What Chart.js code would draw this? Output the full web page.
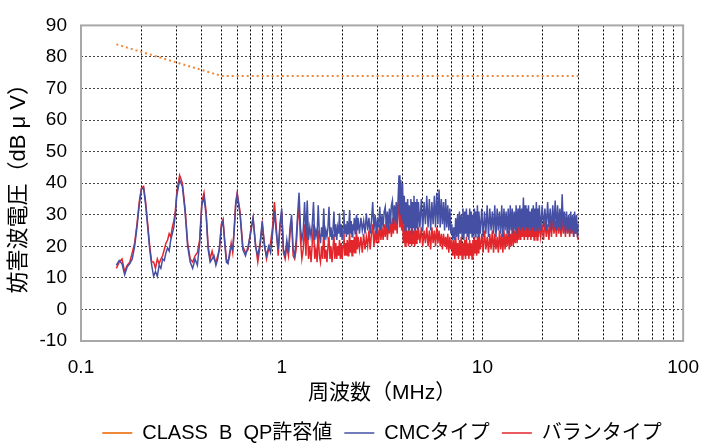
<!DOCTYPE html>
<html>
<head>
<meta charset="utf-8">
<script src="https://cdn.jsdelivr.net/npm/chart.js@4.4.0/dist/chart.umd.min.js"></script>
<style>
  html, body { margin: 0; padding: 0; background: #fff; }
</style>
</head>
<body>
<canvas id="noiseChart" width="714" height="444"></canvas>
<script>
// frequency points (MHz), shared by both measurements
const freqMHz = [
  0.150,0.155,0.160,0.165,0.170,0.175,0.180,0.185,0.190,0.195,0.200,0.205,0.210,0.215,0.220,0.225,0.230,0.235,0.240,0.245,0.250,0.255,0.260,0.265,0.270,0.275,0.280,0.285,0.290,0.295,0.300,
  0.31,0.32,0.33,0.34,0.35,0.36,0.37,0.38,0.39,0.40,0.41,0.42,0.43,0.44,0.45,0.46,0.47,0.48,0.49,0.50,0.51,0.52,0.53,0.54,0.55,0.56,0.57,0.58,0.59,0.60,
  0.62,0.64,0.66,0.68,0.70,0.72,0.74,0.76,0.78,0.80,0.82,0.84,0.86,0.88,0.90,0.92,0.94,0.96,0.98,1.00,1.02,1.04,1.06,1.08,1.10,1.12,1.14,1.16,1.18,1.20,
  1.22,1.24,1.26,1.28,1.30,1.32,1.34,1.36,1.38,1.40,1.42,1.44,1.46,1.48,1.50,1.52,1.54,1.56,1.58,1.60,
  1.62,1.64,1.66,1.68,1.70,1.72,1.74,1.76,1.78,1.80,1.82,1.84,1.86,1.88,1.90,1.92,1.94,1.96,1.98,2.00,
  2.02,2.04,2.06,2.08,2.10,2.12,2.14,2.16,2.18,2.20,2.22,2.24,2.26,2.28,2.30,2.32,2.34,2.36,2.38,2.40,
  2.44,2.48,2.52,2.56,2.60,2.64,2.68,2.72,2.76,2.80,2.84,2.88,2.92,2.96,3.00,3.04,3.08,3.12,3.16,3.20,
  3.24,3.28,3.32,3.36,3.40,3.44,3.48,3.52,3.56,3.60,3.64,3.68,3.72,3.76,3.80,3.84,3.88,3.92,3.96,4.00,
  4.04,4.08,4.12,4.16,4.20,4.24,4.28,4.32,4.36,4.40,4.44,4.48,4.52,4.56,4.60,4.64,4.68,4.72,4.76,4.80,
  4.88,4.96,5.04,5.12,5.20,5.28,5.36,5.44,5.52,5.60,5.68,5.76,5.84,5.92,6.00,6.08,6.16,6.24,6.32,6.40,
  6.48,6.56,6.64,6.72,6.80,6.88,6.96,7.04,7.12,7.20,7.28,7.36,7.44,7.52,7.60,7.68,7.76,7.84,7.92,8.00,
  8.08,8.16,8.24,8.32,8.40,8.48,8.56,8.64,8.72,8.80,8.88,8.96,9.04,9.12,9.20,9.28,9.36,9.44,9.52,9.60,
  9.76,9.92,10.08,10.24,10.40,10.56,10.72,10.88,11.04,11.20,11.36,11.52,11.68,11.84,12.00,12.16,12.32,12.48,12.64,12.80,
  12.96,13.12,13.28,13.44,13.60,13.76,13.92,14.08,14.24,14.40,14.56,14.72,14.88,15.04,15.20,15.36,15.52,15.68,15.84,16.00,
  16.16,16.32,16.48,16.64,16.80,16.96,17.12,17.28,17.44,17.60,17.76,17.92,18.08,18.24,18.40,18.56,18.72,18.88,19.04,19.20,
  19.52,19.84,20.16,20.48,20.80,21.12,21.44,21.76,22.08,22.40,22.72,23.04,23.36,23.68,24.00,24.32,24.64,24.96,25.28,25.60,
  25.92,26.24,26.56,26.88,27.20,27.52,27.84,28.16,28.48,28.80,29.12,29.44,29.76,30.0
];

// CMCタイプ (dBuV)
const cmcType = [
  14,15.5,14.5,11,13.5,14.5,16,20,26,33,38,38.5,33,26,19,14,10.5,12,10.5,14,13,16,15.5,18,19.5,18.5,22,24,26,30,36,
  41,39,31,20,15,13,16,14,21,33,35.5,30,19,15,16,17,14,16,20,26,28,21,15,14.5,18,20,19,25,33,36.5,
  30,19,17,20,24,29,20,17,21,28,20,17,20,18,24,31,24,19,27,32,19,17,22,18,26,30,19,17,22,30,
  37,26,22,25,34,23,34.5,22,26,23,27,34,22,25,23,33,24,21,26,23,
  32,22,25,23,26,32.5,23,26,22,25,31,23,27,22,26,24,30.5,23,27,22,
  26,31.5,24,27,23,28,24,27,31.5,24,28,23,27,25,29,24,28,30,25,29,
  24,29,25,28,24,30.5,25,29,24,28,34,25,30,24,29,26,32.5,25,30,26,
  31,32.5,26,31,25,32,27,33,34.5,27,33,28,34,27,35,42.5,30,41,28,40,
  27,36,25,34,26,35,25,33,26,35,24,34,26,36,25,34,26,35,25,34,
  26,35,25,34,27,36,26,35,25,34,27,36,26,37,27,38,26,35,27,34,
  25,35,26,33,25,32,24,27,22,26,22,29,23,30,22,31,24,30,23,32,
  22,31,24,32,23,30,22,32,24,31,23,30,24,32,23,31,24,33,23,31,
  24,32,23,31,24,33,23,32,25,31,24,33,23,32,25,31,24,33,23,32,
  25,31,24,32,23,33,25,32,24,31,25,33,24,32,26,33,25,32,26,35.5,
  25,33,26,32,25,33,26,31,25,32,26,33,25,32,26,34,25,32,26,33,
  25,33,26,32,25,34,26,32,25,33,26,34.5,25,33,26,32,25,36.5,26,31,
  24,31,25,30,24,31,25,30,23,31,24,30,23,27
];

// バランタイプ (dBuV)
const balunType = [
  13,15,16,12,14,15,18,21,27,34,38.5,39,34,27,20,15,15,13,16,14.5,16,17,19,21,22,24,23,26,28,31,37,
  42.5,40,32,21,16,15,17,18,22,34,37,31,20,16,18.5,16,15,17,19,27,28.5,22,16,15,17,21,18,26,34,37,
  31,20,18,19,25,29,21,15,20,27,21,16,19,21,26,34,26,17,26,31,18,16,20,17,24,28,17,16,19,28,
  33,22,16,19,27,17,29,16,20,15,21,27,16,19,15,25,17,15,20,16,
  26,16,19,15,20,23,16,20,15,19,24,16,21,16,20,17,22,16,21,16,
  20,25,17,21,17,22,17,21,24,18,22,17,22,18,23,18,22,25,19,23,
  19,23,18,24,19,23,20,25,19,24,27,20,25,21,26,21,27,22,26,22,
  27,23,28,22,27,24,28,23,29,24,30,25,29,24,31,35,26,33,25,30,
  21,27,20,26,21,25,20,26,21,25,20,26,21,25,20,26,21,25,22,26,
  21,26,20,25,21,26,20,25,19,26,21,25,20,26,21,25,20,24,19,24,
  20,23,19,24,18,23,19,22,17,22,16,23,17,21,16,22,17,23,16,21,
  17,22,16,23,17,21,16,22,17,21,16,22,17,23,18,22,17,23,18,24,
  19,24,18,25,19,23,18,24,19,25,18,24,19,23,18,25,19,24,18,25,
  19,24,20,25,19,24,20,26,20,25,21,26,21,27,22,28,22,29,23,28,
  22,27,23,28,22,27,23,28,22,27,23,28,22,27,23,28,22,27,23,28,
  23,27,22,28,23,27,22,28,23,29,24,28,23,29,24,28,23,29,24,28,
  23,29,24,28,23,27,24,28,23,27,24,28,23,22
];

// CLASS B QP limit
const limitFreq = [0.15, 0.5, 30];
const limitLevel = [84, 74, 74];

const seriesNames = ['CLASS  B  QP許容値', 'CMCタイプ', 'バランタイプ'];

// x grid lines and the labelled decades
const xGrid = [0.1,0.2,0.3,0.4,0.5,0.6,0.7,0.8,0.9,1,2,3,4,5,6,7,8,9,10,20,30,40,50,60,70,80,90,100];
const xMajor = [0.1, 1, 10, 100];
const xTickLabels = ['0.1', '1', '10', '100'];

const FONT = "'Liberation Sans', 'Noto Sans CJK JP', sans-serif";
Chart.defaults.font.family = FONT;
Chart.defaults.color = '#000';

function toPoints(xs, ys) {
    return xs.map((x, i) => ({ x: x, y: ys[i] }));
}

// grey box round the plot area
const plotFrame = {
    id: 'plotFrame',
    beforeDatasetsDraw(chart) {
        const { ctx, chartArea: a } = chart;
        ctx.save();
        ctx.strokeStyle = '#a8a8a8';
        ctx.lineWidth = 2;
        ctx.strokeRect(a.left, a.top, a.right - a.left, a.bottom - a.top);
        ctx.restore();
    }
};

const ctx = document.getElementById('noiseChart').getContext('2d');
new Chart(ctx, {
    type: 'line',
    data: {
        datasets: [
            {
                label: seriesNames[0],
                data: toPoints(limitFreq, limitLevel),
                borderColor: '#f0883a',
                borderWidth: 2,
                borderDash: [2, 3],
                pointRadius: 0,
                tension: 0
            },
            {
                label: seriesNames[1],
                data: toPoints(freqMHz, cmcType),
                borderColor: '#4550a4',
                borderWidth: 1.5,
                pointRadius: 0,
                tension: 0
            },
            {
                label: seriesNames[2],
                data: toPoints(freqMHz, balunType),
                borderColor: '#e3262c',
                borderWidth: 1.5,
                pointRadius: 0,
                tension: 0
            }
        ]
    },
    options: {
        responsive: false,
        animation: false,
        devicePixelRatio: 1,
        layout: { padding: { top: 17, right: 26, bottom: 0, left: 0 } },
        scales: {
            x: {
                type: 'logarithmic',
                min: 0.1,
                max: 100,
                afterBuildTicks: (scale) => {
                    scale.ticks = xGrid.map(v => ({ value: v }));
                },
                afterFit: (scale) => { scale.height = 70; },
                ticks: {
                    autoSkip: false,
                    maxRotation: 0,
                    padding: 15,
                    font: { size: 19 },
                    callback: (value) => {
                        const i = xMajor.indexOf(value);
                        return i >= 0 ? xTickLabels[i] : '';
                    }
                },
                grid: { color: '#000', lineWidth: 1, drawTicks: false },
                border: { display: false, dash: [2, 2] },
                title: {
                    display: true,
                    text: '周波数（MHz）',
                    font: { size: 21 },
                    padding: { top: 0, bottom: 5 }
                }
            },
            y: {
                min: -10,
                max: 90,
                afterFit: (scale) => { scale.width = 81; },
                ticks: {
                    stepSize: 10,
                    padding: 14,
                    font: { size: 19 }
                },
                grid: { color: '#444', lineWidth: 1, drawTicks: false },
                border: { display: false, dash: [2, 2] },
                title: {
                    display: true,
                    text: '妨害波電圧（dB μ V）',
                    font: { size: 22 },
                    padding: { top: 6, bottom: 0 }
                }
            }
        },
        plugins: {
            legend: {
                display: true,
                position: 'bottom',
                fullSize: false,
                maxHeight: 33,
                labels: {
                    usePointStyle: true,
                    pointStyle: 'line',
                    pointStyleWidth: 30,
                    padding: 12,
                    font: { size: 20 }
                }
            },
            tooltip: { enabled: false }
        }
    },
    plugins: [plotFrame]
});
</script>
</body>
</html>
